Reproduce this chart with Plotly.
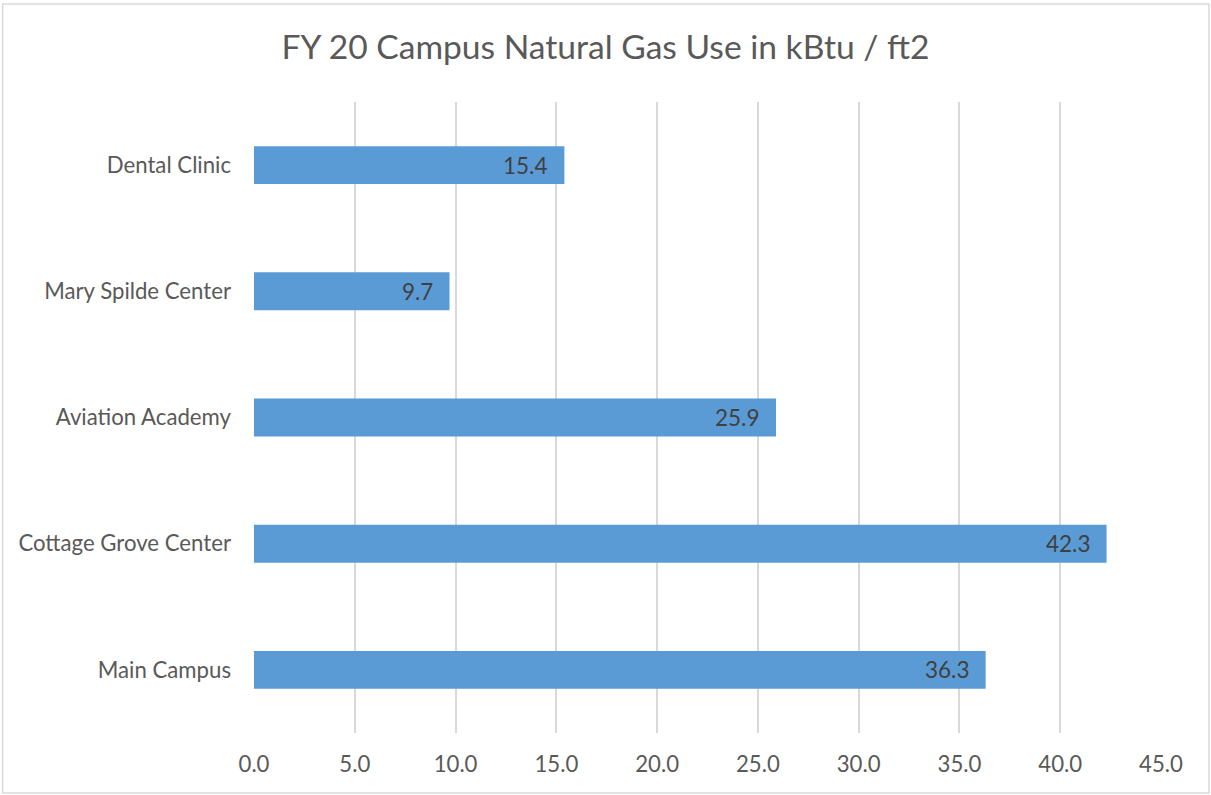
import plotly.graph_objects as go

categories = ["Main Campus", "Cottage Grove Center", "Aviation Academy", "Mary Spilde Center", "Dental Clinic"]
values = [36.3, 42.3, 25.9, 9.7, 15.4]
x_ticks = [0, 5, 10, 15, 20, 25, 30, 35, 40, 45]
x_tick_labels = ["0.0", "5.0", "10.0", "15.0", "20.0", "25.0", "30.0", "35.0", "40.0", "45.0"]
title = "FY 20 Campus Natural Gas Use in kBtu / ft2"

W, H = 1211, 795
L, R, T, B = 253.5, 50, 102, 62
pw, ph = W - L - R, H - T - B

font_family = "Lato, 'Open Sans', sans-serif"

fig = go.Figure()
fig.add_trace(go.Bar(
    y=categories, x=values, orientation="h",
    marker=dict(color="#5B9BD5", line=dict(width=0)),
    hoverinfo="skip",
))

for c, v in zip(categories, values):
    fig.add_annotation(x=v, y=c, text=f"{v:.1f}", showarrow=False, xanchor="right",
                       xshift=-15, font=dict(family=font_family, size=22.5, color="#404040"))

def px2paper_x(p):
    return (p - L) / pw

def px2paper_y(p):
    return (H - B - p) / ph

fig.add_shape(type="rect", xref="paper", yref="paper",
              x0=px2paper_x(2), x1=px2paper_x(1209), y0=px2paper_y(793), y1=px2paper_y(4),
              line=dict(color="#D9D9D9", width=1.5), fillcolor="rgba(0,0,0,0)", layer="below")

fig.update_layout(
    width=W, height=H,
    margin=dict(l=L, r=R, t=T, b=B, autoexpand=False),
    paper_bgcolor="white", plot_bgcolor="white",
    bargap=0.7,
    showlegend=False,
    title=dict(text=title, x=0.5, xref="container", xanchor="center", y=1 - 47 / H, yanchor="middle",
               font=dict(family=font_family, size=33.6, color="#595959")),
    font=dict(family=font_family, color="#595959"),
)
fig.update_xaxes(range=[0, 45], tickvals=x_ticks, ticktext=x_tick_labels,
                 showgrid=True, gridcolor="#D9D9D9", gridwidth=1.5,
                 zeroline=False, showline=False, ticks="",
                 tickfont=dict(size=22.2, color="#595959"), ticklabelstandoff=16)
fig.update_yaxes(categoryorder="array", categoryarray=categories,
                 showgrid=False, zeroline=False, showline=False, ticks="",
                 tickfont=dict(size=22.2, color="#595959"), ticklabelstandoff=22)

fig.write_html("out.html", config={"displayModeBar": False},
               post_script="document.body.style.margin='0';")
